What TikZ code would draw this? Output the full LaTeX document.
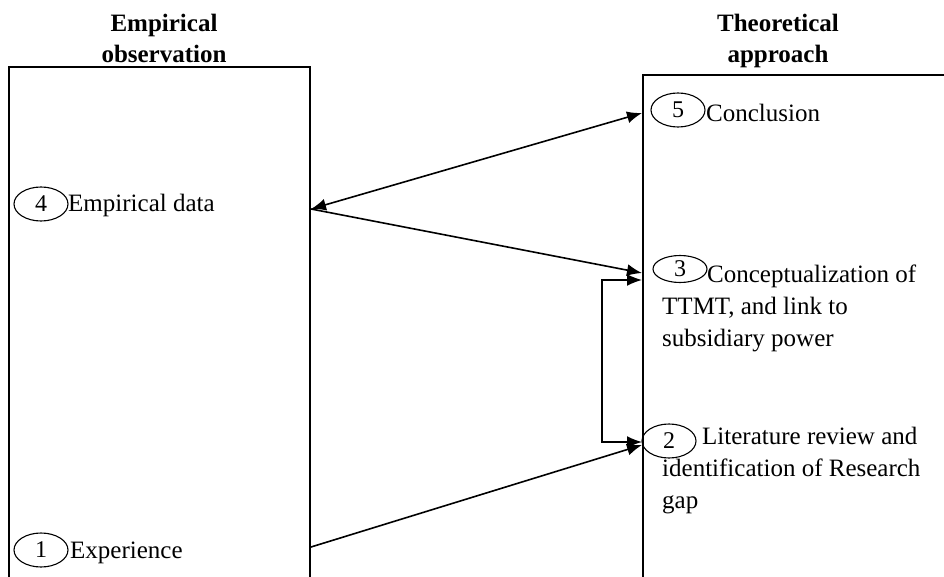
\documentclass[tikz,border=0pt]{standalone}
\usepackage{fontspec}
\setmainfont{Liberation Serif}
\usetikzlibrary{arrows.meta,shapes.geometric}
\begin{document}
\begin{tikzpicture}[x=1pt,y=-1pt,
  txt/.style={inner sep=0pt,anchor=base west,align=left,
    font=\fontsize{25}{32}\selectfont},
  head/.style={inner sep=0pt,anchor=base,align=center,
    font=\fontsize{25}{31}\selectfont\bfseries},
  num/.style={draw,ellipse,line width=1.1pt,inner sep=0pt,
    minimum width=54pt,minimum height=34pt,
    font=\fontsize{24}{28}\selectfont},
  frame/.style={line width=1.8pt},
  link/.style={line width=1.6pt},
  hd/.tip={Latex[length=15pt,width=12pt]}]
\useasboundingbox (0,0) rectangle (944,577);

% the two columns
\draw[frame] (9,577) -- (9,67) -- (310,67) -- (310,577);
\draw[frame] (643,577) -- (643,75) -- (944,75);

% column headings (anchored on their last line)
\node[head] (hL) at (164,63) {Empirical\\observation};
\node[head] (hR) at (778,63) {Theoretical\\approach};

% numbered steps
\node[num] (n4) at (41,204) {4};
\node[txt] (t4) at (68,212) {Empirical data};

\node[num] (n1) at (41,550) {1};
\node[txt] (t1) at (70,558) {Experience};

\node[num] (n5) at (678,110) {5};
\node[txt] (t5) at (706,122) {Conclusion};

\node[num,minimum height=27pt] (n3) at (680,269) {3};
\node[txt] (t3) at (662,346) {\hspace{45pt}Conceptualization of\\TTMT, and link to\\subsidiary power};

\node[num] (n2) at (669,441) {2};
\node[txt] (t2) at (662,508) {\hspace{40pt}Literature review and\\identification of Research\\gap};

% connector end points on the column edges
\coordinate (eData) at (311,209);
\coordinate (eExp) at (311,547);
\coordinate (eConc) at (642,113);
\coordinate (eConcA) at (642,273);
\coordinate (eConcB) at (642,280);
\coordinate (eLitA) at (642,445);
\coordinate (eLitB) at (642,442);

\draw[link,hd-hd] (eData) -- (eConc);
\draw[link,-hd] (eData) -- (eConcA);
\draw[link,-hd] (eExp) -- (eLitA);
\draw[link,hd-hd] (eLitB) -- (602,442) -- (602,280) -- (eConcB);
\end{tikzpicture}
\end{document}
